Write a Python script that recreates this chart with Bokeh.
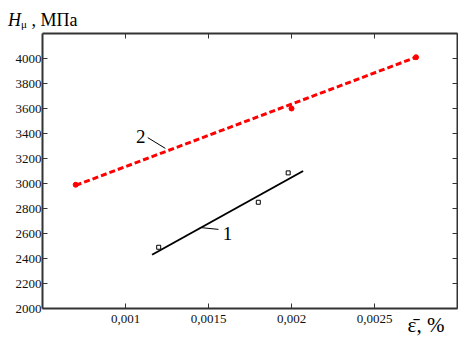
from bokeh.plotting import figure
from bokeh.models import (Range1d, FixedTicker, LinearAxis, Div,
                          CustomJSTickFormatter)
from bokeh.layouts import column
from bokeh.core.properties import value
from bokeh.embed import file_html
from bokeh.resources import INLINE

# --- data ---
s1_x = [0.0012, 0.0018, 0.00198]
s1_y = [2490, 2850, 3085]
fit1_x = [0.00116, 0.00207]
fit1_y = [2430, 3100]

s2_x = [0.0007, 0.002, 0.00275]
s2_y = [2990, 3600, 4010]
fit2_x = [0.0007, 0.00276]
fit2_y = [2985, 4015]

x_ticks = [0.001, 0.0015, 0.002, 0.0025]
y_ticks = [2000, 2200, 2400, 2600, 2800, 3000, 3200, 3400, 3600, 3800, 4000]

lbl1_x, lbl1_y = 0.001614, 2602
lead1_x = [0.001448, 0.00156]
lead1_y = [2648, 2633]
lbl2_x, lbl2_y = 0.001092, 3375
lead2_x = [0.001134, 0.00124]
lead2_y = [3367, 3281]

y_title_html = ("<i>H</i><span style='font-size:11px;vertical-align:-2px'>μ</span>"
                " , МПа")
x_title = "ε\u0304, %" + "\u00a0" * 12

FONT = "Liberation Serif"
AX = "#333333"

header = Div(text=y_title_html, width=458, height=32, margin=0,
             styles={"font-family": FONT, "font-size": "18px", "color": "black",
                     "padding-left": "8px", "padding-top": "10px",
                     "line-height": "20px", "overflow": "visible"})

p = figure(width=458, height=307, output_backend="svg", toolbar_location=None,
           x_range=Range1d(0.0005, 0.003), y_range=Range1d(2000, 4200),
           x_axis_location=None, y_axis_location=None,
           min_border_left=42, min_border_top=1, min_border_right=1,
           min_border_bottom=30, margin=0)
p.outline_line_color = None
p.grid.visible = False
p.background_fill_color = "white"
p.border_fill_color = "white"

fmt = CustomJSTickFormatter(code="""
return String(Number(tick.toPrecision(6))).replace('.', ',');
""")

def style(ax, labels=True):
    ax.axis_line_color = AX
    ax.axis_line_width = 2
    ax.major_tick_line_color = AX
    ax.major_tick_line_width = 1
    ax.major_tick_in = 5
    ax.major_tick_out = 0
    ax.minor_tick_in = 0
    ax.minor_tick_out = 0
    ax.major_label_text_font = FONT
    ax.major_label_text_font_size = "13px" if labels else "0px"
    ax.major_label_text_color = "#111111"
    if not labels:
        ax.major_label_standoff = 0

bottom = LinearAxis(ticker=FixedTicker(ticks=x_ticks), formatter=fmt)
style(bottom)
bottom.major_label_standoff = 6
bottom.axis_label = x_title
bottom.axis_label_align = "end"
bottom.axis_label_standoff = -13
bottom.axis_label_text_font = FONT
bottom.axis_label_text_font_style = "normal"
bottom.axis_label_text_font_size = "21px"
bottom.axis_label_text_color = "black"
p.add_layout(bottom, "below")

left = LinearAxis(ticker=FixedTicker(ticks=y_ticks), formatter=fmt)
style(left)
left.major_label_standoff = 1
p.add_layout(left, "left")

top = LinearAxis(ticker=FixedTicker(ticks=x_ticks))
style(top, labels=False)
p.add_layout(top, "above")

right = LinearAxis(ticker=FixedTicker(ticks=y_ticks + [4200]))
style(right, labels=False)
p.add_layout(right, "right")

# series 2 (red dashed)
p.line(fit2_x, fit2_y, line_color="red", line_width=3, line_dash="6 3")
p.scatter(s2_x, s2_y, marker="circle", size=5, fill_color="red", line_color="red")

# series 1 (black)
p.line(fit1_x, fit1_y, line_color="black", line_width=2)
p.scatter(s1_x, s1_y, marker="square", size=4, fill_color="white",
          line_color="black", line_width=1)

# leaders and numbers
p.line(lead1_x, lead1_y, line_color="black", line_width=1)
p.line(lead2_x, lead2_y, line_color="black", line_width=1)
p.text([lbl1_x], [lbl1_y], text=["1"], text_font=value(FONT),
       text_font_size="19px", text_align="center", text_baseline="middle",
       text_color="black")
p.text([lbl2_x], [lbl2_y], text=["2"], text_font=value(FONT),
       text_font_size="19px", text_align="center", text_baseline="middle",
       text_color="black")

layout = column(header, p, margin=0, spacing=0)
open("out.html", "w").write(file_html(layout, INLINE))
